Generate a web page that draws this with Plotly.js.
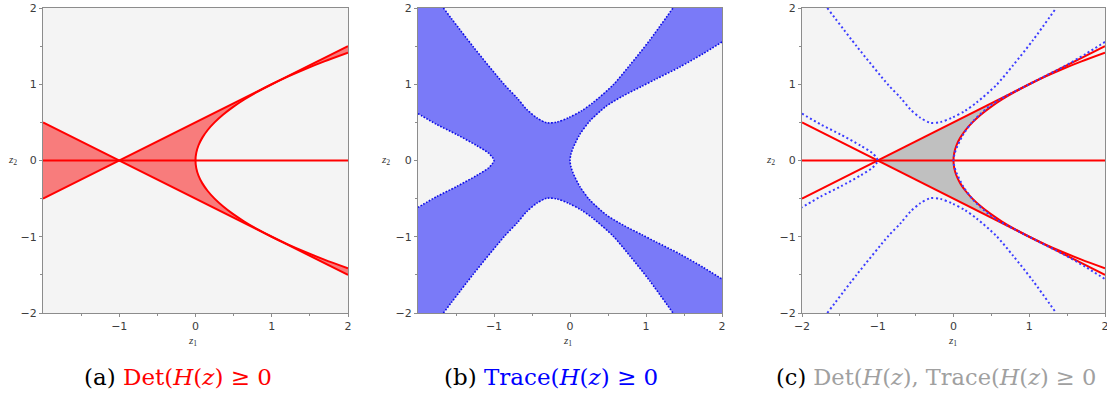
<!DOCTYPE html>
<html><head><meta charset="utf-8">
<script src="https://cdn.plot.ly/plotly-3.0.1.min.js"></script>
<style>html,body{margin:0;padding:0;background:#fff}#chart{width:1107px;height:396px}</style>
</head><body><div id="chart"></div>
<script>
// ---------- axes ----------
const axisRange = [-2, 2];
const majorTicks = [-2, -1, 0, 1, 2];
const majorTickText = ['\u22122', '\u22121', '0', '1', '2'];
const minorTicks = [-1.5, -0.5, 0.5, 1.5];

// ---------- Det(H(z)) boundary ----------
const detLineX = [-2, 2];
const detLineRisingY = [-0.5, 1.5];
const detLineFallingY = [0.5, -1.5];
const detVertex = [-1, 0];
const tangentX = 1;
const zeroLineY = [0, 0];
const parabolaUpperX = [0, 0.01, 0.04, 0.09, 0.16, 0.25, 0.36, 0.49, 0.64, 0.81, 1.0, 1.21, 1.44, 1.69, 2.0];
const parabolaUpperY = [0, 0.1, 0.2, 0.3, 0.4, 0.5, 0.6, 0.7, 0.8, 0.9, 1.0, 1.1, 1.2, 1.3, 1.414];

// ---------- Trace(H(z)) boundary (upper halves; figure is symmetric in z2) ----------
const traceTopX = [-1.666, -1.271, -0.855, -0.701, -0.57, -0.438, -0.307, -0.175, -0.02, 0.15, 0.303, 0.566, 0.786, 1.049, 1.355];
const traceTopY = [2.0, 1.489, 0.985, 0.825, 0.671, 0.561, 0.495, 0.503, 0.561, 0.65, 0.759, 0.99, 1.248, 1.578, 2.0];
const traceLeftUpperX = [-2, -1.754, -1.491, -1.228, -1.074, -1.02, -1.0];
const traceLeftUpperY = [0.615, 0.473, 0.341, 0.196, 0.099, 0.04, 0];
const traceRightUpperX = [0, 0.012, 0.04, 0.128, 0.259, 0.479, 0.697, 0.939, 1.137, 1.443, 1.75, 2.0];
const traceRightUpperY = [0, 0.08, 0.164, 0.34, 0.516, 0.714, 0.846, 0.97, 1.071, 1.225, 1.40, 1.555];

// ---------- colours ----------
const RED = '#ff0000';
const RED_FILL = 'rgb(248,124,124)';
const BLUE_FILL = 'rgb(122,122,248)';
const GRAY_FILL = '#c0c0c0';

// helpers
const neg = a => a.map(v => -v);
const rev = a => a.slice().reverse();

const lo = axisRange[0], hi = axisRange[1];

// parabola full (bottom -> top)
const parabolaX = rev(parabolaUpperX).concat(parabolaUpperX.slice(1));
const parabolaY = neg(rev(parabolaUpperY)).concat(parabolaUpperY.slice(1));

// trace boundaries full
const leftFullX = traceLeftUpperX.concat(rev(traceLeftUpperX).slice(1));
const leftFullY = traceLeftUpperY.concat(neg(rev(traceLeftUpperY)).slice(1));
const rightFullX = rev(traceRightUpperX).concat(traceRightUpperX.slice(1));
const rightFullY = rev(traceRightUpperY).concat(neg(traceRightUpperY).slice(1));

function lineTrace(x, y, ax, color, width, dash, shape) {
  return {x: x, y: y, xaxis: 'x' + ax, yaxis: 'y' + ax, mode: 'lines', hoverinfo: 'skip',
    line: {color: color, width: width, dash: dash || 'solid', shape: shape || 'linear', smoothing: 0.8}};
}
function fillTrace(x, y, ax, color) {
  return {x: x, y: y, xaxis: 'x' + ax, yaxis: 'y' + ax, mode: 'lines', fill: 'toself',
    fillcolor: color, line: {width: 0, color: color}, hoverinfo: 'skip'};
}

const data = [];

// ===== Panel (a) =====
data.push(fillTrace([detLineX[0], detVertex[0], detLineX[0]],
                    [detLineFallingY[0], detVertex[1], detLineRisingY[0]], '', RED_FILL));
(function () {
  const x = [detVertex[0], detLineX[1]].concat(rev(parabolaUpperX), parabolaUpperX.slice(1), [detLineX[1], detVertex[0]]);
  const y = [detVertex[1], detLineRisingY[1]].concat(rev(parabolaUpperY), neg(parabolaUpperY).slice(1), [detLineFallingY[1], detVertex[1]]);
  data.push(fillTrace(x, y, '', RED_FILL));
})();
function redLines(ax) {
  data.push(lineTrace(detLineX, detLineRisingY, ax, RED, 2));
  data.push(lineTrace(detLineX, detLineFallingY, ax, RED, 2));
  data.push(lineTrace(detLineX, zeroLineY, ax, RED, 1.8));
  data.push(lineTrace(parabolaX, parabolaY, ax, RED, 2, 'solid', 'spline'));
}
redLines('');

// ===== Panel (b) =====
(function () {
  const x = [lo].concat(traceTopX, [hi, hi], rev(traceRightUpperX), traceRightUpperX.slice(1), [hi],
                        rev(traceTopX), [lo], traceLeftUpperX, rev(traceLeftUpperX).slice(1), [lo]);
  const y = [hi].concat(traceTopY, [hi, traceRightUpperY[traceRightUpperY.length - 1]], rev(traceRightUpperY),
                        neg(traceRightUpperY).slice(1), [lo], neg(rev(traceTopY)), [lo],
                        neg(traceLeftUpperY), rev(traceLeftUpperY).slice(1), [hi]);
  data.push(fillTrace(x, y, '2', BLUE_FILL));
})();
function dottedTrace(ax, color, width, dash) {
  data.push(lineTrace(traceTopX, traceTopY, ax, color, width, dash, 'spline'));
  data.push(lineTrace(traceTopX, neg(traceTopY), ax, color, width, dash, 'spline'));
  data.push(lineTrace(leftFullX, leftFullY, ax, color, width, dash, 'spline'));
  data.push(lineTrace(rightFullX, rightFullY, ax, color, width, dash, 'spline'));
}
dottedTrace('2', '#0c0ce6', 1.6, '1.6px,1.6px');

// ===== Panel (c) =====
(function () {
  const up = [], upY = [];
  for (let i = 0; i < parabolaUpperX.length; i++) {
    if (parabolaUpperX[i] <= tangentX) { up.push(parabolaUpperX[i]); upY.push(parabolaUpperY[i]); }
  }
  const x = [detVertex[0]].concat(rev(up), up.slice(1), [detVertex[0]]);
  const y = [detVertex[1]].concat(rev(upY), neg(upY).slice(1), [detVertex[1]]);
  data.push(fillTrace(x, y, '3', GRAY_FILL));
})();
redLines('3');
dottedTrace('3', '#3c3cff', 2, '2px,2.6px');

// ---------- layout ----------
const W = 1107, H = 396;
const yDom = [1 - 313 / H, 1 - 8 / H];
function xAxis(domain, anchor, vals) {
  return {domain: domain, anchor: anchor, range: axisRange, fixedrange: true,
    showgrid: false, zeroline: false, showline: true, mirror: true, linecolor: '#8c8c8c', linewidth: 1,
    ticks: 'outside', ticklen: 3, tickwidth: 1, tickcolor: '#8c8c8c', ticklabeloverflow: 'allow',
    tickvals: vals, ticktext: vals.map(v => majorTickText[majorTicks.indexOf(v)]),
    tickfont: {family: 'DejaVu Sans', size: 11, color: '#3c3c3c'},
    minor: {tickvals: minorTicks, ticks: 'outside', ticklen: 2, tickcolor: '#8c8c8c', showgrid: false}};
}
function yAxis(anchor) {
  return xAxis(yDom, anchor, majorTicks);
}
const layout = {
  width: W, height: H, margin: {l: 0, r: 0, t: 0, b: 0},
  paper_bgcolor: '#ffffff', plot_bgcolor: '#f4f4f4', showlegend: false,
  xaxis: xAxis([43 / W, 348 / W], 'y', [-1, 0, 1, 2]),
  yaxis: yAxis('x'),
  xaxis2: xAxis([418 / W, 722 / W], 'y2', [-1, 0, 1, 2]),
  yaxis2: yAxis('x2'),
  xaxis3: xAxis([802 / W, 1105 / W], 'y3', majorTicks),
  yaxis3: yAxis('x3'),
  annotations: []
};
const capFont = {family: 'DejaVu Serif', size: 23, color: '#000000'};
const captions = [
  {x: 178, size: 23, text: '(a) <span style="color:#ff0000">Det(<i>H</i>(<i>z</i>) \u2265 0</span>'},
  {x: 551, size: 23, text: '(b) <span style="color:#0000ff">Trace(<i>H</i>(<i>z</i>) \u2265 0</span>'},
  {x: 936, size: 22.5, text: '(c) <span style="color:#a0a0a0">Det(<i>H</i>(<i>z</i>), Trace(<i>H</i>(<i>z</i>) \u2265 0</span>'}
];
captions.forEach(c => layout.annotations.push({xref: 'paper', yref: 'paper', x: c.x / W, y: 1 - 377 / H,
  xanchor: 'center', yanchor: 'middle', showarrow: false, text: c.text,
  font: {family: capFont.family, size: c.size, color: capFont.color}}));
const axFont = {family: 'Liberation Serif', size: 11, color: '#333333'};
[[193, 12], [567, 385], [952, 770]].forEach(p => {
  layout.annotations.push({xref: 'paper', yref: 'paper', x: p[0] / W, y: 1 - 341 / H, xanchor: 'center', yanchor: 'middle',
    showarrow: false, text: '<i>z</i><sub>1</sub>', font: axFont});
  layout.annotations.push({xref: 'paper', yref: 'paper', x: p[1] / W, y: 1 - 160 / H, xanchor: 'center', yanchor: 'middle',
    showarrow: false, text: '<i>z</i><sub>2</sub>', font: axFont});
});
Plotly.newPlot('chart', data, layout, {staticPlot: true, displayModeBar: false});
</script>
</body></html>
